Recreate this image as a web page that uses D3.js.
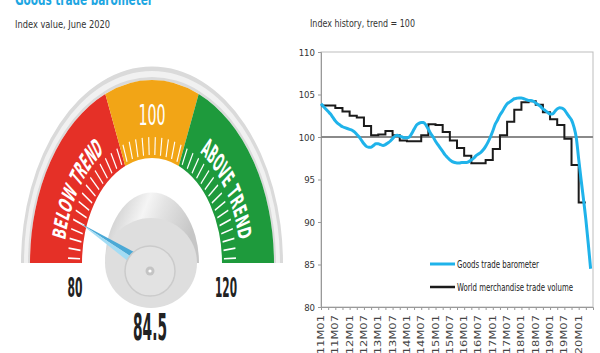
<!DOCTYPE html>
<html>
<head>
<meta charset="utf-8">
<script src="https://cdn.jsdelivr.net/npm/d3@7"></script>
<style>
  body { margin: 0; background: #fff; }
  text { font-family: "Liberation Sans Narrow", "Arial Narrow", "DejaVu Sans Condensed", sans-serif; }
</style>
</head>
<body>
<script>
// Gauge data
const gaugeValue = 84.5;
const gaugeMin = 80;
const gaugeMax = 120;
const zoneLimits = [80, 95, 105, 120];
const zoneColors = ["#e53027", "#f2a516", "#1e9a3c"];

// History data, 2011M01 .. 2020M06 (monthly barometer)
const startYear = 2011;
const barometer = [
  103.9, 103.6, 103.3, 103.0, 102.7, 102.3, 101.9, 101.6, 101.4, 101.2,
  101.1, 101.0, 100.9, 100.8, 100.6, 100.3, 100.0, 99.6, 99.2, 98.9,
  98.8, 98.8, 99.0, 99.2, 99.2, 99.1, 99.0, 99.1, 99.3, 99.5,
  99.8, 100.1, 100.2, 100.1, 100.0, 99.9, 99.9, 100.0, 100.4, 100.9,
  101.4, 101.6, 101.7, 101.7, 101.4, 100.9, 100.4, 100.0, 99.5, 99.1,
  98.7, 98.3, 97.9, 97.6, 97.3, 97.1, 97.0, 96.95, 96.95, 97.0,
  97.0, 97.0, 97.1, 97.3, 97.5, 97.8, 98.0, 98.2, 98.5, 98.9,
  99.4, 100.0, 100.7, 101.5, 102.0, 102.6, 103.0, 103.5, 103.9, 104.1,
  104.3, 104.5, 104.55, 104.6, 104.6, 104.5, 104.4, 104.3, 104.3, 104.2,
  104.0, 103.8, 103.6, 103.3, 103.1, 102.9, 102.7, 102.7, 103.0, 103.3,
  103.45, 103.4, 103.2, 102.8, 102.4, 102.0, 101.2, 99.9, 97.4, 95.0,
  92.7, 90.3, 87.5, 84.5
];
// quarterly trade volume, 2011Q1 .. 2020Q1
const tradeVolume = [
  103.7, 103.7, 103.4, 103.0, 102.5, 102.3, 101.3, 100.2, 100.3, 100.7,
  100.2, 99.6, 99.5, 99.5, 100.2, 101.5, 101.4, 100.6, 99.6, 98.7,
  97.8, 96.9, 96.9, 97.3, 98.6, 100.2, 101.8, 103.2, 104.1, 104.2,
  103.8, 102.9, 102.1, 101.4, 99.8, 96.7, 92.3
];
const yTicks = [80, 85, 90, 95, 100, 105, 110];
const seriesNames = ["Goods trade barometer", "World merchandise trade volume"];

const width = 600, height = 353;

const svg = d3.select("body").append("svg")
  .attr("width", width)
  .attr("height", height)
  .attr("viewBox", [0, 0, width, height]);

// ---------- Left: titles ----------
svg.append("text")
  .attr("x", 15).attr("y", 5)
  .attr("fill", "#1ea6e2")
  .attr("textLength", 138).attr("lengthAdjust", "spacingAndGlyphs")
  .style("font-size", "16px").style("font-weight", "bold")
  .text("Goods trade barometer");

svg.append("text")
  .attr("x", 15).attr("y", 28)
  .attr("fill", "#333")
  .attr("textLength", 95).attr("lengthAdjust", "spacingAndGlyphs")
  .style("font-size", "10px")
  .text("Index value, June 2020");

// ---------- Gauge ----------
const cx = 152, cy = 263, sy = 1.5;
const angle = d3.scaleLinear().domain([gaugeMin, gaugeMax]).range([-Math.PI / 2, Math.PI / 2]);

const defs = svg.append("defs");
const domeGrad = defs.append("linearGradient").attr("id", "dome")
  .attr("x1", "0%").attr("y1", "0%").attr("x2", "100%").attr("y2", "30%");
domeGrad.append("stop").attr("offset", "0%").attr("stop-color", "#bcbcbc");
domeGrad.append("stop").attr("offset", "45%").attr("stop-color", "#f5f5f5");
domeGrad.append("stop").attr("offset", "62%").attr("stop-color", "#e4e4e4");
domeGrad.append("stop").attr("offset", "100%").attr("stop-color", "#c6c6c6");

const g = svg.append("g").attr("transform", `translate(${cx},${cy}) scale(1,${sy})`);

// outer rim
g.append("path")
  .attr("d", d3.arc()({innerRadius: 122, outerRadius: 131, startAngle: -Math.PI / 2, endAngle: Math.PI / 2}))
  .attr("fill", "#dadada");
g.append("path")
  .attr("d", d3.arc()({innerRadius: 124, outerRadius: 128, startAngle: -Math.PI / 2, endAngle: Math.PI / 2}))
  .attr("fill", "#f1f1f1");

// coloured zones
g.selectAll("path.zone")
  .data(zoneColors)
  .join("path")
  .attr("class", "zone")
  .attr("d", (c, i) => d3.arc()({
    innerRadius: 70, outerRadius: 122,
    startAngle: angle(zoneLimits[i]), endAngle: angle(zoneLimits[i + 1])
  }))
  .attr("fill", c => c);

// tick marks
g.selectAll("line.tick")
  .data(d3.range(gaugeMin + 0.5, gaugeMax, 1))
  .join("line")
  .attr("class", "tick")
  .attr("x1", d => 72 * Math.sin(angle(d)))
  .attr("y1", d => -72 * Math.cos(angle(d)))
  .attr("x2", d => 84 * Math.sin(angle(d)))
  .attr("y2", d => -84 * Math.cos(angle(d)))
  .attr("stroke", "#fff")
  .attr("stroke-width", 1.1);

// curved labels
const rText = 88;
defs.append("path").attr("id", "textArc")
  .attr("d", `M${-rText},0 A${rText},${rText} 0 0 1 ${rText},0`);
[["BELOW TREND", 87.4], ["ABOVE TREND", 112.6]].forEach(([label, v]) => {
  g.append("text")
    .attr("fill", "#fff").style("font-size", "18.5px").style("font-weight", "bold")
    .attr("text-anchor", "middle")
    .append("textPath").attr("href", "#textArc")
    .attr("startOffset", ((v - gaugeMin) / (gaugeMax - gaugeMin) * 100) + "%")
    .attr("textLength", 72).attr("lengthAdjust", "spacingAndGlyphs")
    .text(label);
});
g.append("text")
  .attr("x", 0).attr("y", -92)
  .attr("text-anchor", "middle")
  .attr("fill", "#fff")
  .attr("textLength", 27).attr("lengthAdjust", "spacingAndGlyphs")
  .style("font-size", "19px")
  .text("100");

// hub bowl (below base) and dome
svg.append("ellipse")
  .attr("cx", cx - 1).attr("cy", cy).attr("rx", 46).attr("ry", 45)
  .attr("fill", "#dedede");
g.append("path")
  .attr("d", d3.arc()({innerRadius: 0, outerRadius: 47, startAngle: -Math.PI / 2, endAngle: Math.PI / 2}))
  .attr("fill", "url(#dome)");

// needle
const a = angle(gaugeValue);
const tip = [cx + 77 * Math.sin(a), cy - 77 * sy * Math.cos(a)];
const base = [cx - 2, cy + 6];
const dx = tip[0] - base[0], dy = tip[1] - base[1];
const len = Math.hypot(dx, dy);
const nx = -dy / len * 7.5, ny = dx / len * 7.5;
svg.append("path")
  .attr("d", `M${tip}L${base[0] + nx},${base[1] + ny}L${base}Z`)
  .attr("fill", "#4aa9d6");
svg.append("path")
  .attr("d", `M${tip}L${base[0] - nx},${base[1] - ny}L${base}Z`)
  .attr("fill", "#a3dcf4");

// hub
svg.append("circle").attr("cx", cx - 2).attr("cy", cy + 8).attr("r", 25)
  .attr("fill", "#e2e2e2").attr("stroke", "#cbcbcb").attr("stroke-width", 1.5);
svg.append("circle").attr("cx", cx - 2).attr("cy", cy + 8).attr("r", 4.5)
  .attr("fill", "#c4c4c4");
svg.append("circle").attr("cx", cx - 2).attr("cy", cy + 8).attr("r", 1.6)
  .attr("fill", "#fff");

// min / max / value labels
[[gaugeMin, 75, 15], [gaugeMax, 226, 22]].forEach(([v, px, w]) => {
  svg.append("text")
    .attr("transform", `translate(${px - w / 2},297) scale(1,1.65)`)
    .attr("fill", "#222")
    .attr("textLength", w).attr("lengthAdjust", "spacingAndGlyphs")
    .style("font-size", "16px").style("font-weight", "bold")
    .text(v);
});
svg.append("text")
  .attr("transform", "translate(133,340) scale(1,1.75)")
  .attr("fill", "#222")
  .attr("textLength", 34).attr("lengthAdjust", "spacingAndGlyphs")
  .style("font-size", "21px").style("font-weight", "bold")
  .text(gaugeValue.toFixed(1));

// ---------- Right: index history ----------
const x = d3.scaleLinear().domain([0, 114]).range([321, 593]);
const y = d3.scaleLinear().domain([80, 110]).range([307, 52]);

svg.append("text")
  .attr("x", 310).attr("y", 27)
  .attr("fill", "#333")
  .attr("textLength", 105).attr("lengthAdjust", "spacingAndGlyphs")
  .style("font-size", "10px")
  .text("Index history, trend = 100");

// frame
svg.append("rect")
  .attr("x", x(0)).attr("y", y(110))
  .attr("width", x(114) - x(0)).attr("height", y(80) - y(110))
  .attr("fill", "none").attr("stroke", "#bdbdbd");

// y axis
svg.append("g")
  .attr("transform", `translate(${x(0)},0)`)
  .call(d3.axisLeft(y).tickValues(yTicks).tickSize(3).tickPadding(3))
  .call(g => g.select(".domain").attr("stroke", "#999"))
  .call(g => g.selectAll(".tick line").attr("stroke", "#999"))
  .call(g => g.selectAll(".tick text")
    .attr("fill", "#333").style("font-size", "9.5px")
    .style("font-family", "'Liberation Sans Narrow', 'Arial Narrow', 'DejaVu Sans Condensed', sans-serif"));

// x axis: quarterly ticks, labels every 6 months
const monthLabel = i => `${startYear + Math.floor(i / 12)}M${String(i % 12 + 1).padStart(2, "0")}`;
svg.append("g")
  .attr("transform", `translate(0,${y(80)})`)
  .call(d3.axisBottom(x).tickValues(d3.range(0, 114, 3)).tickSize(3).tickFormat(""))
  .call(g => g.select(".domain").attr("stroke", "#999"))
  .call(g => g.selectAll(".tick line").attr("stroke", "#999"));

svg.append("g")
  .selectAll("text")
  .data(d3.range(0, 109, 6))
  .join("text")
  .attr("transform", i => `translate(${x(i) + 3},${y(80) + 8}) rotate(-90) scale(1.6,1)`)
  .attr("text-anchor", "end")
  .attr("fill", "#444")
  .style("font-size", "8px")
  .text(monthLabel);

// trend line
svg.append("line")
  .attr("x1", x(0)).attr("x2", x(114))
  .attr("y1", y(100)).attr("y2", y(100))
  .attr("stroke", "#8a8a8a").attr("stroke-width", 1.8);

// trade volume, quarterly steps
const volPoints = tradeVolume.map((v, k) => ({i: k * 3, v}));
volPoints.push({i: tradeVolume.length * 3, v: tradeVolume[tradeVolume.length - 1]});
svg.append("path")
  .datum(volPoints)
  .attr("fill", "none")
  .attr("stroke", "#1b1b1b")
  .attr("stroke-width", 2)
  .attr("d", d3.line().x(d => x(d.i)).y(d => y(d.v)).curve(d3.curveStepAfter));

// barometer
svg.append("path")
  .datum(barometer)
  .attr("fill", "none")
  .attr("stroke", "#1fb3ea")
  .attr("stroke-width", 3)
  .attr("stroke-linejoin", "round")
  .attr("d", d3.line().x((d, i) => x(i)).y(d => y(d)).curve(d3.curveMonotoneX));

// legend
const legend = svg.append("g")
  .selectAll("g")
  .data(seriesNames)
  .join("g")
  .attr("transform", (d, i) => `translate(430,${264 + i * 23})`);
legend.append("line")
  .attr("x1", 0).attr("x2", 25)
  .attr("stroke", (d, i) => i === 0 ? "#1fb3ea" : "#1b1b1b")
  .attr("stroke-width", (d, i) => i === 0 ? 3 : 2.5);
legend.append("text")
  .attr("transform", "translate(27,4) scale(1,1.25)")
  .attr("fill", "#222")
  .attr("textLength", (d, i) => i === 0 ? 82 : 116).attr("lengthAdjust", "spacingAndGlyphs")
  .style("font-size", "8.5px")
  .text(d => d);
</script>
</body>
</html>
